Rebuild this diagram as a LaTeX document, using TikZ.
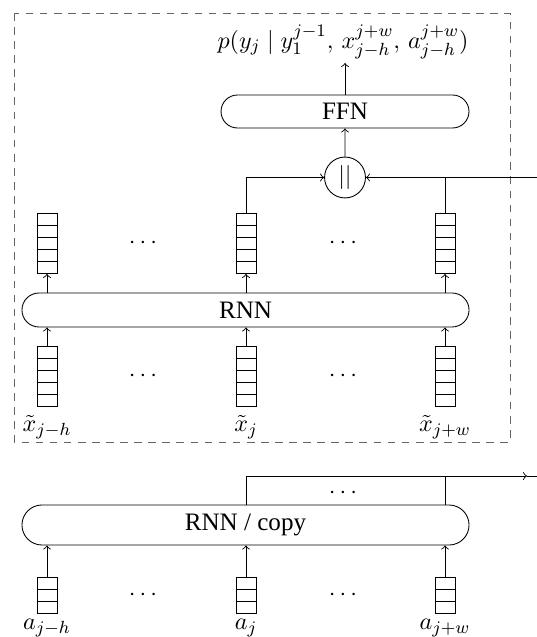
\documentclass[tikz,border=0pt]{standalone}
\usepackage{fontspec}
\setmainfont{Liberation Serif}
\usetikzlibrary{shapes.misc,calc}
\begin{document}
\begin{tikzpicture}[x=0.4545pt,y=-0.4545pt,
  font=\fontsize{11.4}{13.7}\selectfont,
  pill/.style={draw, rounded rectangle, inner sep=0pt},
  vecbox/.style={draw, rectangle, inner sep=0pt, minimum width=9.09pt},
  vecfive/.style={vecbox, minimum height=27.27pt},
  vecthree/.style={vecbox, minimum height=16.36pt},
  conn/.style={->},
  frame/.style={draw=black!60, dash pattern=on 3.5pt off 2.9pt}
]
\useasboundingbox (0,0) rectangle (537,637);
% dashed frame
\path[frame] (14,13) rectangle (510,442);

% upper part
\node (out) at (343,42) {$p(y_j \mid y_1^{j-1},\, x_{j-h}^{j+w},\, a_{j-h}^{j+w})$};
\node[pill, minimum width=112.7pt, minimum height=15pt] (ffn) at (345,111.5) {FFN};
\node[draw, circle, minimum size=18.6pt, inner sep=0pt] (cat) at (345,177.5) {$||$};
\node[pill, minimum width=203.2pt, minimum height=15.45pt] (rnn) at (245.5,310) {RNN};

\node[vecfive] (tl) at (47,243.5) {};
\node[vecfive] (tm) at (246,243.5) {};
\node[vecfive] (tr) at (445,243.5) {};
\node[vecfive] (bl) at (47,376.5) {};
\node[vecfive] (bm) at (246,376.5) {};
\node[vecfive] (br) at (445,376.5) {};
\foreach \n in {tl,tm,tr,bl,bm,br}
  \foreach \i in {1,...,4}
    \draw ($(\n.north west)!\i/5!(\n.south west)$) -- ($(\n.north east)!\i/5!(\n.south east)$);

\node (d1) at (143,243) {$\cdots$};
\node (d2) at (343,243) {$\cdots$};
\node (d3) at (143,376) {$\cdots$};
\node (d4) at (343,376) {$\cdots$};

\node (lx1) at (47,427) {$\tilde{x}_{j-h}$};
\node (lx2) at (246,427) {$\tilde{x}_{j}$};
\node (lx3) at (445,427) {$\tilde{x}_{j+w}$};

\coordinate (otip) at (345,63);
\draw[conn] (ffn.north) -- (otip);
\draw[conn] (cat) -- (ffn);
\draw[conn] (tm.north) |- (cat.west);
\coordinate (rin) at (537,177.5);
\draw[conn] (rin) -- (cat.east);
\draw (tr.north) -- (tr.north |- cat.east);
\foreach \x in {l,m,r} {
  \draw[conn] (rnn.north -| t\x.south) -- (t\x.south);
  \draw[conn] (b\x.north) -- (rnn.south -| b\x.north);
}

% lower part
\node[pill, minimum width=203.2pt, minimum height=18.2pt] (copy) at (245.5,525) {RNN / copy};
\node[vecthree] (al) at (47,595.5) {};
\node[vecthree] (am) at (246,595.5) {};
\node[vecthree] (ar) at (445,595.5) {};
\foreach \n in {al,am,ar}
  \foreach \i in {1,2}
    \draw ($(\n.north west)!\i/3!(\n.south west)$) -- ($(\n.north east)!\i/3!(\n.south east)$);
\node (d5) at (143,595) {$\cdots$};
\node (d6) at (343,595) {$\cdots$};
\node (d7) at (343,493) {$\cdots$};
\node (la1) at (47,628) {$a_{j-h}$};
\node (la2) at (246,628) {$a_{j}$};
\node (la3) at (445,628) {$a_{j+w}$};
\foreach \n in {al,am,ar}
  \draw[conn] (\n.north) -- (copy.south -| \n.north);
\coordinate (cturn) at (246,476);
\coordinate (cend) at (527,476);
\coordinate (cedge) at (537,476);
\draw[conn] (copy.north -| am.north) -- (cturn) -- (cend);
\draw (cend) -- (cedge);
\draw (copy.north -| ar.north) -- (ar.north |- cend);
\end{tikzpicture}
\end{document}
